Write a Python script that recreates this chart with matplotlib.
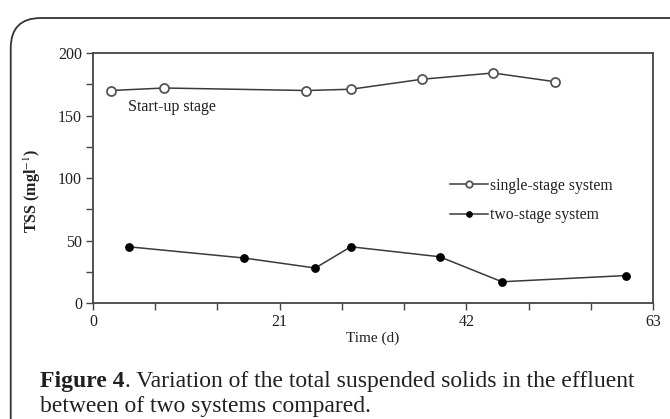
import matplotlib
matplotlib.use("Agg")
import matplotlib.pyplot as plt
from matplotlib.patches import FancyBboxPatch

# data
single_days = [2, 8, 24, 29, 37, 45, 52]
single_tss = [170, 172, 170, 171, 179, 184, 177]
two_days = [4, 17, 25, 29, 39, 46, 60]
two_tss = [45, 36, 28, 45, 37, 17, 22]

x_ticks = [0, 21, 42, 63]
y_ticks = [0, 50, 100, 150, 200]

SERIF = "Liberation Serif"
LINE_COL = "#3a3a3a"
TXT_COL = "#231f20"
plt.rcParams["mathtext.fontset"] = "stix"

fig = plt.figure(figsize=(6.7, 4.19), dpi=100)
ax = fig.add_axes([0.1388, 0.2768, 0.836, 0.5967])

ax.plot(single_days, single_tss, color=LINE_COL, lw=1.1, marker="o", ms=6.5,
        mfc="white", mec="#555555", mew=1.3, label="single-stage system")
ax.plot(two_days, two_tss, color=LINE_COL, lw=1.1, marker="o", ms=5.3,
        mfc="black", mec="black", label="two-stage system")

ax.set_xlim(0, 63)
ax.set_ylim(0, 200)
ax.set_xticks(x_ticks)
ax.set_xticks(range(0, 64, 7), minor=True)
ax.set_yticks(y_ticks)
ax.set_yticks(range(0, 201, 25), minor=True)
ax.tick_params(which="both", direction="out", color="#444444", width=1.0)
ax.tick_params(which="major", length=5, labelsize=11.5, pad=3)
ax.tick_params(which="minor", length=5)
for lbl in ax.get_xticklabels() + ax.get_yticklabels():
    lbl.set_fontfamily(SERIF)
    lbl.set_color(TXT_COL)
for sp in ax.spines.values():
    sp.set_color("#444444")
    sp.set_linewidth(1.3)

ax.set_xlabel("Time (d)", fontsize=11, family=SERIF, labelpad=1, color=TXT_COL)
ax.set_ylabel("TSS (mgl$^{-1}$)", fontsize=11.5, family=SERIF,
              fontweight="bold", color=TXT_COL)
ax.yaxis.set_label_coords(-0.089, 0.448)

ax.text(3.9, 157, "Start-up stage", fontsize=11.5, family=SERIF,
        color=TXT_COL, va="center")

leg = ax.legend(loc="center left", bbox_to_anchor=(0.626, 0.41), frameon=False,
                prop={"family": SERIF, "size": 11.3}, handlelength=2.4,
                handletextpad=0.15, labelspacing=0.85, borderaxespad=0,
                markerscale=0.72)
for t in leg.get_texts():
    t.set_color(TXT_COL)

# rounded frame around the panel
frame = FancyBboxPatch((0.016, -0.2), 1.2, 1.157,
                       boxstyle="round,pad=0,rounding_size=0.045",
                       transform=fig.transFigure, fill=False,
                       ec="#333333", lw=1.3, clip_on=False,
                       mutation_aspect=670 / 419)
fig.add_artist(frame)

# caption
cap1 = fig.text(0.06, 0.076, "Figure 4", fontsize=17, family=SERIF,
                fontweight="bold", color=TXT_COL)
fig.add_artist(plt.Annotation(
    ". Variation of the total suspended solids in the effluent",
    xy=(1, 0), xycoords=cap1, va="bottom", fontsize=17, family=SERIF,
    color=TXT_COL))
fig.text(0.06, 0.016, "between of two systems compared.", fontsize=17,
         family=SERIF, color=TXT_COL)

fig.savefig("out.png", dpi=100)
